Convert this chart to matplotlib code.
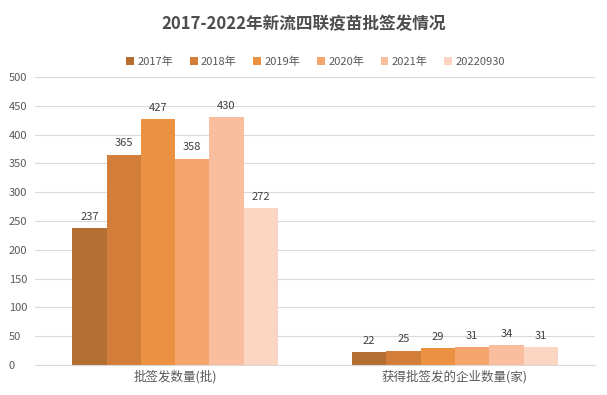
import numpy as np
import matplotlib
matplotlib.use('Agg')
import matplotlib.pyplot as plt

plt.rcParams['font.family'] = ['Noto Sans CJK SC', 'DejaVu Sans']

# ── data ──────────────────────────────────────────────────────────────
categories = ['批签发数量(批)', '获得批签发的企业数量(家)']
series = ['2017年', '2018年', '2019年', '2020年', '2021年', '20220930']
v2017 = [237, 22]
v2018 = [365, 25]
v2019 = [427, 29]
v2020 = [358, 31]
v2021 = [430, 34]
v2022 = [272, 31]
values = [v2017, v2018, v2019, v2020, v2021, v2022]

COLORS = ['#B46E32', '#D27D3A', '#EB9142', '#F6A66C', '#F8BE9E', '#F9D5C2']
TXT = '#595959'

fig = plt.figure(figsize=(6.07, 3.95), dpi=100)
ax = fig.add_axes([0.058, 0.076, 0.922, 0.729])

x = np.arange(len(categories))
bw = 0.735 / len(series)
for i, (name, vals) in enumerate(zip(series, values)):
    pos = x - 0.735 / 2 + bw * (i + 0.5)
    bars = ax.bar(pos, vals, width=bw, color=COLORS[i], label=name, zorder=2)
    for b, v in zip(bars, vals):
        ax.text(b.get_x() + b.get_width() / 2, v + 11, str(v),
                ha='center', va='bottom', fontsize=8, color='#404040')

ax.set_xlim(-0.5, 1.5)
ax.set_ylim(0, 500)
ax.set_yticks(range(0, 501, 50))
ax.yaxis.grid(True, color='#D9D9D9', linewidth=0.8, zorder=0)
ax.set_xticks(x)
ax.set_xticklabels(categories, fontsize=9, color=TXT)
ax.tick_params(axis='y', labelsize=8, colors=TXT, length=0, pad=19)
ax.tick_params(axis='x', length=0, pad=4)
for s in ['top', 'right', 'left']:
    ax.spines[s].set_visible(False)
ax.spines['bottom'].set_color('#D9D9D9')
for lbl in ax.get_yticklabels():
    lbl.set_horizontalalignment('left')

fig.text(0.5, 0.94, '2017-2022年新流四联疫苗批签发情况', ha='center', va='center',
         fontsize=12, fontweight='bold', color='#4D4D4D')
fig.legend(loc='center', bbox_to_anchor=(0.52, 0.843), ncol=6, frameon=False,
           fontsize=8, handlelength=0.7, handleheight=0.7, columnspacing=1.5,
           handletextpad=0.3, labelcolor=TXT)

fig.savefig('out.png', dpi=100)
